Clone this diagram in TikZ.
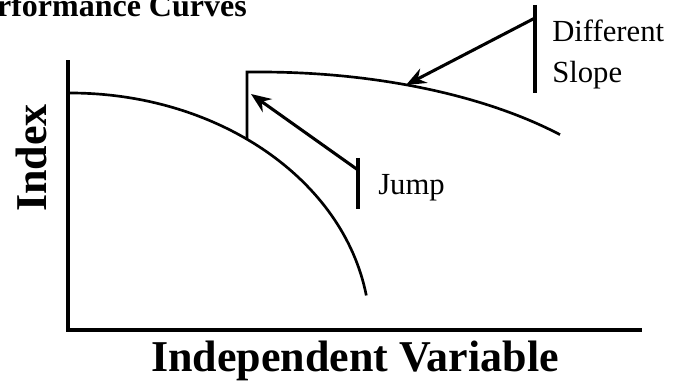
\documentclass[tikz,border=0pt]{standalone}
\usepackage{fontspec}
\setmainfont{Liberation Serif}
\usetikzlibrary{arrows.meta}
\begin{document}
\begin{tikzpicture}[x=0.75pt,y=-0.75pt,
  axisline/.style={line width=3.2pt,line cap=rect},
  curveline/.style={line width=2pt},
  barline/.style={line width=2.3pt},
  pointer/.style={line width=2.3pt,-{Stealth[length=15pt,width=12pt,inset=5pt]}},
  biglabel/.style={font=\fontsize{33}{36}\selectfont\bfseries,inner sep=0pt},
  smalllabel/.style={font=\fontsize{23}{30}\selectfont,inner sep=0pt,align=left},
  titlelabel/.style={font=\fontsize{24}{28}\selectfont\bfseries,inner sep=0pt}]
\useasboundingbox (0,0) rectangle (675,381);
\clip (0,0) rectangle (675,381);
% title (cut off at the left edge)
\node[titlelabel,anchor=base east] (title) at (247,17) {Performance Curves};
% axes
\coordinate (ytop) at (68,62);
\coordinate (origin) at (68,330);
\coordinate (xend) at (640,330);
\draw[axisline] (ytop) -- (origin) -- (xend);
% axis labels
\node[biglabel,anchor=base] (xlab) at (355,371) {Independent Variable};
\node[biglabel,rotate=90,anchor=base] (ylab) at (46,158) {Index};
% first curve
\coordinate (c1start) at (70,93);
\draw[curveline] (c1start) arc[start angle=-90,end angle=-9,x radius=300,y radius=240];
% jump and second curve
\coordinate (jlow) at (247,139);
\coordinate (jhigh) at (247,72);
\coordinate (c2top) at (260,72);
\draw[curveline,line join=miter] (jlow) -- (jhigh) -- (c2top)
  arc[start angle=-90,end angle=-41.4,x radius=400,y radius=185];
% jump marker
\coordinate (jbtop) at (358,158);
\coordinate (jbbot) at (358,209);
\coordinate (jstart) at (358,170);
\coordinate (jtip) at (251,94);
\draw[barline] (jbtop) -- (jbbot);
\draw[pointer] (jstart) -- (jtip);
\node[smalllabel,anchor=base west] (jump) at (378,195) {Jump};
% slope marker
\coordinate (dbtop) at (535,5);
\coordinate (dbbot) at (535,93);
\coordinate (dstart) at (535,18);
\coordinate (dtip) at (406,85);
\draw[barline] (dbtop) -- (dbbot);
\draw[pointer] (dstart) -- (dtip);
\node[smalllabel,anchor=base west] (diff) at (552,42) {Different};
\node[smalllabel,anchor=base west] (slope) at (552,83) {Slope};
\end{tikzpicture}
\end{document}
